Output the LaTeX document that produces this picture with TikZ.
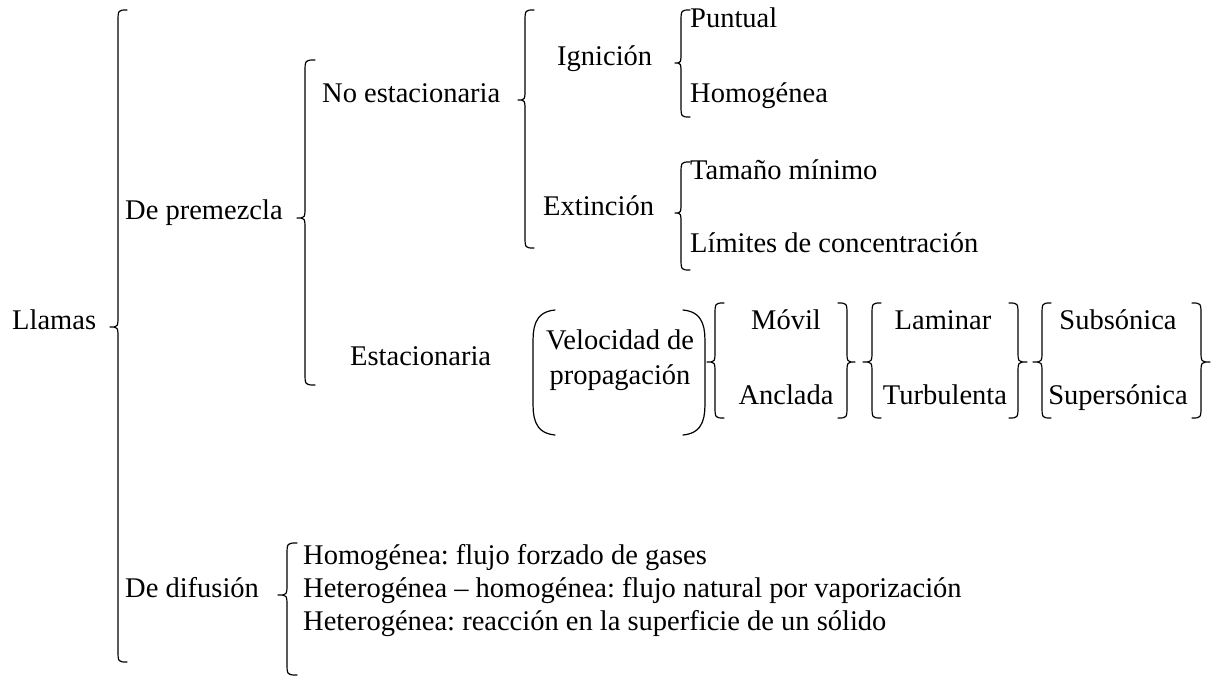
\documentclass[tikz,border=0pt]{standalone}
\usepackage{fontspec}
\setmainfont{Liberation Serif}
\frenchspacing
\newcommand\mybraceL[6]{% tip x, line x, end x, top y, mid y, bottom y
  \draw[bracestyle] (#3,#4) .. controls (#2,#4) .. (#2,#4+13) -- (#2,#5-12)
    .. controls (#2,#5) .. (#1,#5) .. controls (#2,#5) .. (#2,#5+12)
    -- (#2,#6-13) .. controls (#2,#6) .. (#3,#6);}
\newcommand\mybraceR[6]{% tip x, line x, end x, top y, mid y, bottom y
  \draw[bracestyle] (#3,#4) .. controls (#2,#4) .. (#2,#4+13) -- (#2,#5-12)
    .. controls (#2,#5) .. (#1,#5) .. controls (#2,#5) .. (#2,#5+12)
    -- (#2,#6-13) .. controls (#2,#6) .. (#3,#6);}
\begin{document}
\begin{tikzpicture}[x=1pt,y=-1pt,
  bracestyle/.style={line width=1.2pt,line cap=round,line join=round},
  lbl/.style={inner sep=0pt,anchor=mid west,font=\fontsize{28.5}{33}\selectfont},
  clbl/.style={inner sep=0pt,anchor=mid,font=\fontsize{28.5}{33}\selectfont}]
\useasboundingbox (0,0) rectangle (1213,677);
% level 0
\node[lbl] (llamas) at (12,327) {Llamas};
\mybraceL{110}{118}{127}{10}{327}{662}
% level 1
\node[lbl] (prem) at (125,217) {De premezcla};
\node[lbl] (dif) at (125,595) {De difusión};
\mybraceL{297}{305}{315}{60}{218}{385}
\mybraceL{278}{287}{297}{543}{595}{675}
% level 2
\node[lbl] (noest) at (322,100) {No estacionaria};
\node[lbl] (est) at (350,363) {Estacionaria};
\mybraceL{518}{525}{534}{10}{100}{248}
\node[lbl] (d1) at (303,562) {Homogénea: flujo forzado de gases};
\node[lbl] (d2) at (303,595) {Heterogénea – homogénea: flujo natural por vaporización};
\node[lbl] (d3) at (303,628) {Heterogénea: reacción en la superficie de un sólido};
% level 3
\node[lbl] (ign) at (557,63) {Ignición};
\node[lbl] (ext) at (543,213) {Extinción};
\mybraceL{675}{681}{690}{10}{63}{117}
\mybraceL{675}{681}{690}{162}{213}{270}
\node[lbl] (punt) at (690,25) {Puntual};
\node[lbl] (homo) at (690,100) {Homogénea};
\node[lbl] (tam) at (690,177) {Tamaño mínimo};
\node[lbl] (lim) at (690,250) {Límites de concentración};
% estacionaria chain
\node[clbl] (vel1) at (620,347) {Velocidad de};
\node[clbl] (vel2) at (620,382) {propagación};
\draw[bracestyle] (555,310) .. controls (533,312) and (533,330) .. (533,345)
  -- (533,400) .. controls (533,415) and (533,433) .. (555,435);
\draw[bracestyle] (683,310) .. controls (705,312) and (705,330) .. (705,345)
  -- (705,400) .. controls (705,415) and (705,433) .. (683,435);
\mybraceL{707}{715}{724}{303}{362}{418}
\node[clbl] (movil) at (786,327) {Móvil};
\node[clbl] (ancl) at (786,402) {Anclada};
\mybraceR{855}{847}{838}{303}{362}{418}
\mybraceL{863}{872}{881}{303}{362}{418}
\node[clbl] (lam) at (943,327) {Laminar};
\node[clbl] (turb) at (945,402) {Turbulenta};
\mybraceR{1027}{1018}{1009}{303}{362}{418}
\mybraceL{1033}{1042}{1051}{303}{362}{418}
\node[clbl] (sub) at (1118,327) {Subsónica};
\node[clbl] (sup) at (1118,402) {Supersónica};
\mybraceR{1210}{1201}{1192}{303}{362}{418}
\end{tikzpicture}
\end{document}
